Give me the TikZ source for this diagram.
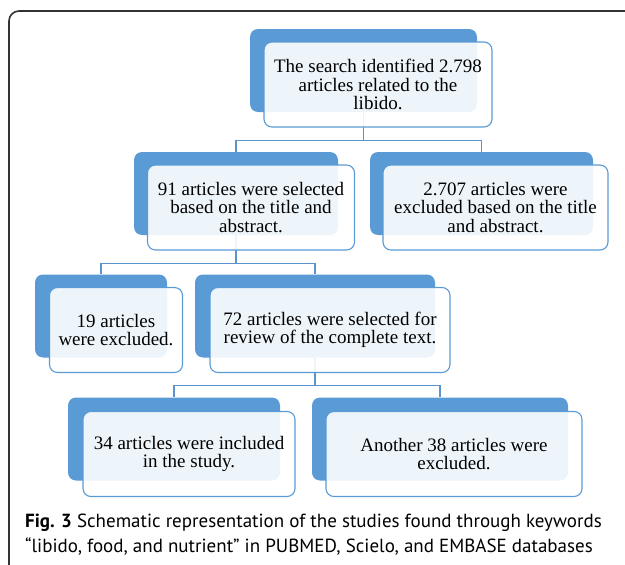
\documentclass[tikz,border=0pt]{standalone}
\usepackage{fontspec}
\setmainfont{Liberation Serif}
\newfontfamily\capfont{PT Sans}
\usetikzlibrary{positioning,backgrounds}

\definecolor{boxblue}{HTML}{5B9BD5}
\definecolor{linkblue}{HTML}{5B93CF}
\definecolor{framegray}{HTML}{333333}

\begin{document}
\begin{tikzpicture}
[ x=1pt, y=-1pt
, backbox/.style={fill=boxblue, rounded corners=8pt, minimum height=83pt, inner sep=0pt}
, frontbox/.style={draw=boxblue, line width=1.1pt, fill=white, fill opacity=0.9, text opacity=1,
    rounded corners=8pt, minimum height=85pt, inner sep=0pt, align=center,
    font=\fontsize{19}{18.5}\selectfont}
, link/.style={draw=linkblue, line width=1.2pt}
]

\useasboundingbox (0,0) rectangle (625,565);

% frame
\draw[framegray, line width=1.6pt, rounded corners=10pt] (626,11) -- (9,11) -- (9,566);

% back boxes
\node[backbox, minimum width=227pt] (search)   at (363.5,70.5) {};
\node[backbox, minimum width=204pt] (selected) at (236,193.5) {};
\node[backbox, minimum width=223pt] (excluded) at (481.5,193.5) {};
\node[backbox, minimum width=132pt] (nineteen) at (101,316) {};
\node[backbox, minimum width=240pt] (review)   at (315,316) {};
\node[backbox, minimum width=212pt] (included) at (174,439) {};
\node[backbox, minimum width=256pt] (another)  at (440,439) {};

% front boxes
\node[frontbox, minimum width=228pt] (searchf)   at ([shift={(14.5,14)}]search.center)
  {The search identified 2.798\\articles related to the\\libido.};
\node[frontbox, minimum width=207pt] (selectedf) at ([shift={(15,14)}]selected.center)
  {91 articles were selected\\based on the title and\\abstract.};
\node[frontbox, minimum width=225pt] (excludedf) at ([shift={(14,14)}]excluded.center)
  {2.707 articles were\\excluded based on the title\\and abstract.};
\node[frontbox, minimum width=133pt] (nineteenf) at ([shift={(15,14)}]nineteen.center)
  {19 articles\\were excluded.};
\node[frontbox, minimum width=240pt] (reviewf)   at ([shift={(15,14)}]review.center)
  {72 articles were selected for\\review of the complete text.};
\node[frontbox, minimum width=212pt] (includedf) at ([shift={(15,15)}]included.center)
  {34 articles were included\\in the study.};
\node[frontbox, minimum width=256pt] (anotherf)  at ([shift={(14,15)}]another.center)
  {Another 38 articles were\\excluded.};

% connectors
\begin{scope}[on background layer]
\draw[link] (search.south) -- ++(0,28) -| (selected.north);
\draw[link] (search.south) -- ++(0,28) -| (excluded.north);
\draw[link] (selected.south) -- ++(0,28) -| (nineteen.north);
\draw[link] (selected.south) -- ++(0,28) -| (review.north);
\draw[link] (review.south) -- ++(0,28) -| (included.north);
\draw[link] (review.south) -- ++(0,28) -| (another.north);
\end{scope}

% caption
\node[anchor=west, align=left, inner sep=0pt, font=\capfont\fontsize{19}{25}\selectfont] (caption) at (25,535)
  {\textbf{Fig. 3} Schematic representation of the studies found through keywords\\
   “libido, food, and nutrient” in PUBMED, Scielo, and EMBASE databases};

\end{tikzpicture}
\end{document}
